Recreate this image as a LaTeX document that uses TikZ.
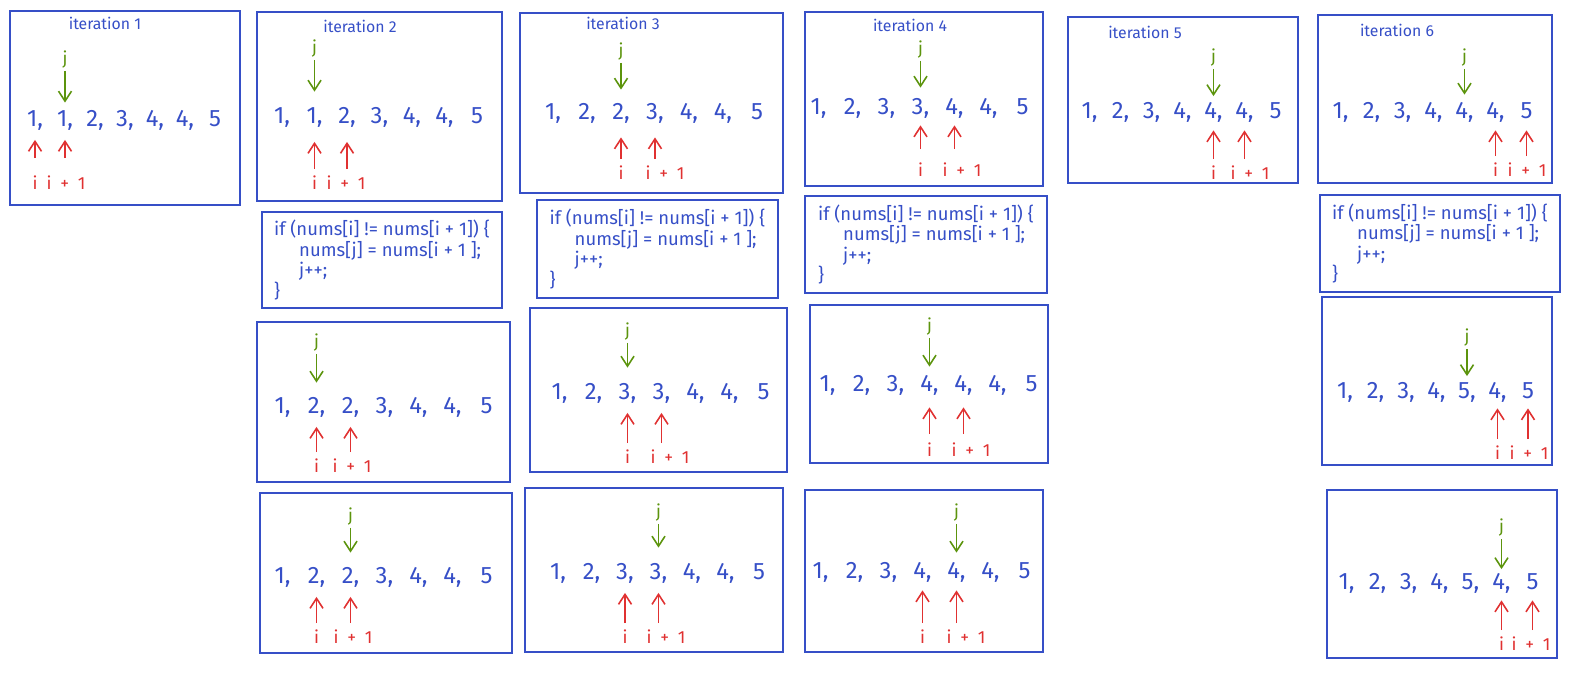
\documentclass[tikz,border=0pt]{standalone}
\usepackage{fontspec}
\setmainfont{Fira Sans}
\usepackage{tikz}
\usetikzlibrary{arrows.meta,matrix,positioning}
\definecolor{exblue}{HTML}{364FC7}
\definecolor{exred}{HTML}{E03131}
\definecolor{exgreen}{HTML}{5C940D}

\begin{document}
\begin{tikzpicture}[x=0.02cm, y=-0.02cm,
  panel/.style={draw=exblue, line width=1pt},
  codebox/.style={panel, align=left, text=exblue, font=\fontsize{10.5}{11.6}\selectfont},
  title/.style={text=exblue, font=\fontsize{9}{11}\selectfont},
  numrow/.style={matrix of nodes, column sep=2.4mm,
                 nodes={inner sep=0pt, minimum width=4.4mm, text height=9.5pt, text depth=2.5pt,
                        text=exblue, font=\fontsize{13.5}{16}\selectfont}},
  jlabel/.style={text=exgreen, inner sep=1pt, font=\fontsize{10}{12}\selectfont},
  ilabel/.style={text=exred, inner sep=1pt, font=\fontsize{10}{12}\selectfont},
  jptr/.style={-{Straight Barb[length=2mm, width=2.6mm]}, line width=0.9pt, draw=exgreen,
               shorten >=2mm},
  iptr/.style={-{Straight Barb[length=2mm, width=2.6mm]}, line width=0.9pt, draw=exred,
               shorten <=1mm, shorten >=1.8mm},
]
  \useasboundingbox (0,0) rectangle (1576,690);

  % Iteration 1 -------------------------------------------------------------
  \node[panel, minimum width=46mm, minimum height=38.8mm] (it1a) at (125,108) {};
  \node[title] (it1title) at (105,23) {iteration 1};
  \matrix[numrow, column sep=1.6mm] (it1arow) at (125,120) {1, & 1, & 2, & 3, & 4, & 4, & 5 \\};
  \node[jlabel] (it1aj) at (it1arow-1-2 |- 0,60) {j};
  \node[ilabel] (it1ai) at (it1arow-1-1 |- 0,183) {i};
  \node[ilabel] (it1aip) at (66,183) {i\enspace+\enspace1};
  \draw[jptr, shorten >=1.3mm] (it1aj) -- (it1arow-1-2);
  \draw[iptr, shorten <=3.2mm] (it1ai) -- (it1arow-1-1);
  \draw[iptr, shorten <=3.2mm] (it1arow-1-2 |- it1aip.north) -- (it1arow-1-2);

  % Iteration 2 -------------------------------------------------------------
  \node[panel, minimum width=49mm, minimum height=37.8mm] (it2a) at (379.5,106.5) {};
  \node[title] (it2title) at (360,26) {iteration 2};
  \matrix[numrow, column sep=2.1mm] (it2arow) at (379.5,117) {1, & 1, & 2, & 3, & 4, & 4, & 5 \\};
  \node[jlabel] (it2aj) at (it2arow-1-2 |- 0,49) {j};
  \node[ilabel] (it2ai) at (it2arow-1-2 |- 0,183) {i};
  \node[ilabel] (it2aip) at (346,183) {i\enspace+\enspace1};
  \draw[jptr, shorten >=2.9mm] (it2aj) -- (it2arow-1-2);
  \draw[iptr, shorten >=2.8mm] (it2ai) -- (it2arow-1-2);
  \draw[iptr, shorten >=2.8mm] (it2arow-1-3 |- it2aip.north) -- (it2arow-1-3);

  \node[codebox, minimum width=48mm, minimum height=19.2mm] (it2if) at (382,260)
    {if (nums[i] != nums[i + 1]) \{\\\hspace*{5mm}nums[j] = nums[i + 1 ];\\\hspace*{5mm}j++;\\\}};

  \node[panel, minimum width=50.6mm, minimum height=32mm] (it2b) at (383.5,402) {};
  \matrix[numrow] (it2brow) at (384.5,407) {1, & 2, & 2, & 3, & 4, & 4, & 5 \\};
  \node[jlabel] (it2bj) at (it2brow-1-2 |- 0,343) {j};
  \node[ilabel] (it2bi) at (it2brow-1-2 |- 0,466) {i};
  \node[ilabel] (it2bip) at (352,466) {i\enspace+\enspace1};
  \draw[jptr, shorten >=2.7mm] (it2bj) -- (it2brow-1-2);
  \draw[iptr] (it2bi) -- (it2brow-1-2);
  \draw[iptr] (it2brow-1-3 |- it2bip.north) -- (it2brow-1-3);

  \node[panel, minimum width=50.4mm, minimum height=32mm] (it2c) at (386,573) {};
  \matrix[numrow] (it2crow) at (384.5,577) {1, & 2, & 2, & 3, & 4, & 4, & 5 \\};
  \node[jlabel] (it2cj) at (it2crow-1-3 |- 0,517) {j};
  \node[ilabel] (it2ci) at (it2crow-1-2 |- 0,637) {i};
  \node[ilabel] (it2cip) at (353,637) {i\enspace+\enspace1};
  \draw[jptr, shorten >=2.7mm] (it2cj) -- (it2crow-1-3);
  \draw[iptr] (it2ci) -- (it2crow-1-2);
  \draw[iptr] (it2crow-1-3 |- it2cip.north) -- (it2crow-1-3);

  % Iteration 3 -------------------------------------------------------------
  \node[panel, minimum width=52.6mm, minimum height=36mm] (it3a) at (651.5,103) {};
  \node[title] (it3title) at (623,23) {iteration 3};
  \matrix[numrow] (it3arow) at (655,113) {1, & 2, & 2, & 3, & 4, & 4, & 5 \\};
  \node[jlabel] (it3aj) at (it3arow-1-3 |- 0,52) {j};
  \node[ilabel] (it3ai) at (it3arow-1-3 |- 0,173) {i};
  \node[ilabel] (it3aip) at (665,173) {i\enspace+\enspace1};
  \draw[jptr, shorten >=2.5mm] (it3aj) -- (it3arow-1-3);
  \draw[iptr, shorten >=2.7mm] (it3ai) -- (it3arow-1-3);
  \draw[iptr, shorten >=2.7mm] (it3arow-1-4 |- it3aip.north) -- (it3arow-1-4);

  \node[codebox, minimum width=48.2mm, minimum height=19.6mm] (it3if) at (657.5,249)
    {if (nums[i] != nums[i + 1]) \{\\\hspace*{5mm}nums[j] = nums[i + 1 ];\\\hspace*{5mm}j++;\\\}};

  \node[panel, minimum width=51.4mm, minimum height=32.8mm] (it3b) at (658.5,390) {};
  \matrix[numrow] (it3brow) at (661.5,393) {1, & 2, & 3, & 3, & 4, & 4, & 5 \\};
  \node[jlabel] (it3bj) at (it3brow-1-3 |- 0,332) {j};
  \node[ilabel] (it3bi) at (it3brow-1-3 |- 0,457) {i};
  \node[ilabel] (it3bip) at (670,457) {i\enspace+\enspace1};
  \draw[jptr, shorten >=2.9mm] (it3bj) -- (it3brow-1-3);
  \draw[iptr] (it3bi) -- (it3brow-1-3);
  \draw[iptr] (it3brow-1-4 |- it3bip.north) -- (it3brow-1-4);

  \node[panel, minimum width=51.6mm, minimum height=32.8mm] (it3c) at (654,570) {};
  \matrix[numrow, column sep=2.3mm] (it3crow) at (658.5,573) {1, & 2, & 3, & 3, & 4, & 4, & 5 \\};
  \node[jlabel] (it3cj) at (it3crow-1-4 |- 0,513) {j};
  \node[ilabel] (it3ci) at (it3crow-1-3 |- 0,637) {i};
  \node[ilabel] (it3cip) at (666,637) {i\enspace+\enspace1};
  \draw[jptr, shorten >=2.9mm] (it3cj) -- (it3crow-1-4);
  \draw[iptr] (it3ci) -- (it3crow-1-3);
  \draw[iptr] (it3crow-1-4 |- it3cip.north) -- (it3crow-1-4);

  % Iteration 4 -------------------------------------------------------------
  \node[panel, minimum width=47.6mm, minimum height=34.8mm] (it4a) at (924,99) {};
  \node[title] (it4title) at (910,25) {iteration 4};
  \matrix[numrow] (it4arow) at (920.5,108) {1, & 2, & 3, & 3, & 4, & 4, & 5 \\};
  \node[jlabel] (it4aj) at (it4arow-1-4 |- 0,50) {j};
  \node[ilabel] (it4ai) at (it4arow-1-4 |- 0,170) {i};
  \node[ilabel] (it4aip) at (962,170) {i\enspace+\enspace1};
  \draw[jptr, shorten >=1.9mm] (it4aj) -- (it4arow-1-4);
  \draw[iptr, shorten <=2.4mm, shorten >=1.3mm] (it4ai) -- (it4arow-1-4);
  \draw[iptr, shorten <=2.4mm, shorten >=1.3mm] (it4arow-1-5 |- it4aip.north) -- (it4arow-1-5);

  \node[codebox, minimum width=48.4mm, minimum height=19.4mm] (it4if) at (926,244.5)
    {if (nums[i] != nums[i + 1]) \{\\\hspace*{5mm}nums[j] = nums[i + 1 ];\\\hspace*{5mm}j++;\\\}};

  \node[panel, minimum width=47.6mm, minimum height=31.6mm] (it4b) at (929,384) {};
  \matrix[numrow] (it4brow) at (929.5,385) {1, & 2, & 3, & 4, & 4, & 4, & 5 \\};
  \node[jlabel] (it4bj) at (it4brow-1-4 |- 0,327) {j};
  \node[ilabel] (it4bi) at (it4brow-1-4 |- 0,450) {i};
  \node[ilabel] (it4bip) at (971,450) {i\enspace+\enspace1};
  \draw[jptr, shorten >=1.5mm] (it4bj) -- (it4brow-1-4);
  \draw[iptr, shorten <=1.4mm, shorten >=2.3mm] (it4bi) -- (it4brow-1-4);
  \draw[iptr, shorten <=1.4mm, shorten >=2.3mm] (it4brow-1-5 |- it4bip.north) -- (it4brow-1-5);

  \node[panel, minimum width=47.6mm, minimum height=32.4mm] (it4c) at (924,571) {};
  \matrix[numrow] (it4crow) at (922.5,572) {1, & 2, & 3, & 4, & 4, & 4, & 5 \\};
  \node[jlabel] (it4cj) at (it4crow-1-5 |- 0,513) {j};
  \node[ilabel] (it4ci) at (it4crow-1-4 |- 0,637) {i};
  \node[ilabel] (it4cip) at (966,637) {i\enspace+\enspace1};
  \draw[jptr, shorten >=1.7mm] (it4cj) -- (it4crow-1-5);
  \draw[iptr, shorten >=1.5mm] (it4ci) -- (it4crow-1-4);
  \draw[iptr, shorten >=1.5mm] (it4crow-1-5 |- it4cip.north) -- (it4crow-1-5);

  % Iteration 5 -------------------------------------------------------------
  \node[panel, minimum width=46mm, minimum height=33.2mm] (it5a) at (1183,100) {};
  \node[title] (it5title) at (1145,32) {iteration 5};
  \matrix[numrow, column sep=1.8mm] (it5arow) at (1182.5,112) {1, & 2, & 3, & 4, & 4, & 4, & 5 \\};
  \node[jlabel] (it5aj) at (it5arow-1-5 |- 0,58) {j};
  \node[ilabel] (it5ai) at (it5arow-1-5 |- 0,173) {i};
  \node[ilabel] (it5aip) at (1250,173) {i\enspace+\enspace1};
  \draw[jptr, shorten >=1mm] (it5aj) -- (it5arow-1-5);
  \draw[iptr, shorten >=1.5mm] (it5ai) -- (it5arow-1-5);
  \draw[iptr, shorten >=1.5mm] (it5arow-1-6 |- it5aip.north) -- (it5arow-1-6);

  % Iteration 6 -------------------------------------------------------------
  \node[panel, minimum width=46.8mm, minimum height=33.6mm] (it6a) at (1435,99) {};
  \node[title] (it6title) at (1397,30) {iteration 6};
  \matrix[numrow, column sep=1.8mm] (it6arow) at (1433.5,112) {1, & 2, & 3, & 4, & 4, & 4, & 5 \\};
  \node[jlabel] (it6aj) at (it6arow-1-5 |- 0,58) {j};
  \node[ilabel] (it6ai) at (it6arow-1-6 |- 0,170) {i};
  \node[ilabel] (it6aip) at (1527,170) {i\enspace+\enspace1};
  \draw[jptr, shorten >=1.3mm] (it6aj) -- (it6arow-1-5);
  \draw[iptr, shorten >=1.5mm] (it6ai) -- (it6arow-1-6);
  \draw[iptr, shorten >=1.5mm] (it6arow-1-7 |- it6aip.north) -- (it6arow-1-7);

  \node[codebox, minimum width=48mm, minimum height=19.4mm] (it6if) at (1440,243.5)
    {if (nums[i] != nums[i + 1]) \{\\\hspace*{5mm}nums[j] = nums[i + 1 ];\\\hspace*{5mm}j++;\\\}};

  \node[panel, minimum width=46mm, minimum height=33.6mm] (it6b) at (1437,381) {};
  \matrix[numrow, column sep=1.7mm] (it6brow) at (1436.5,392) {1, & 2, & 3, & 4, & 5, & 4, & 5 \\};
  \node[jlabel] (it6bj) at (it6brow-1-5 |- 0,338) {j};
  \node[ilabel] (it6bi) at (it6brow-1-6 |- 0,453) {i};
  \node[ilabel] (it6bip) at (1529,453) {i\enspace+\enspace1};
  \draw[jptr, shorten >=1mm] (it6bj) -- (it6brow-1-5);
  \draw[iptr, shorten >=1.1mm] (it6bi) -- (it6brow-1-6);
  \draw[iptr, shorten >=1.1mm] (it6brow-1-7 |- it6bip.north) -- (it6brow-1-7);

  \node[panel, minimum width=46mm, minimum height=33.6mm] (it6c) at (1442,574) {};
  \matrix[numrow, column sep=1.8mm] (it6crow) at (1439.5,583) {1, & 2, & 3, & 4, & 5, & 4, & 5 \\};
  \node[jlabel] (it6cj) at (it6crow-1-6 |- 0,528) {j};
  \node[ilabel] (it6ci) at (it6crow-1-6 |- 0,644) {i};
  \node[ilabel] (it6cip) at (1531,644) {i\enspace+\enspace1};
  \draw[jptr, shorten >=0.6mm] (it6cj) -- (it6crow-1-6);
  \draw[iptr, shorten >=1.3mm] (it6ci) -- (it6crow-1-6);
  \draw[iptr, shorten >=1.3mm] (it6crow-1-7 |- it6cip.north) -- (it6crow-1-7);
\end{tikzpicture}
\end{document}
